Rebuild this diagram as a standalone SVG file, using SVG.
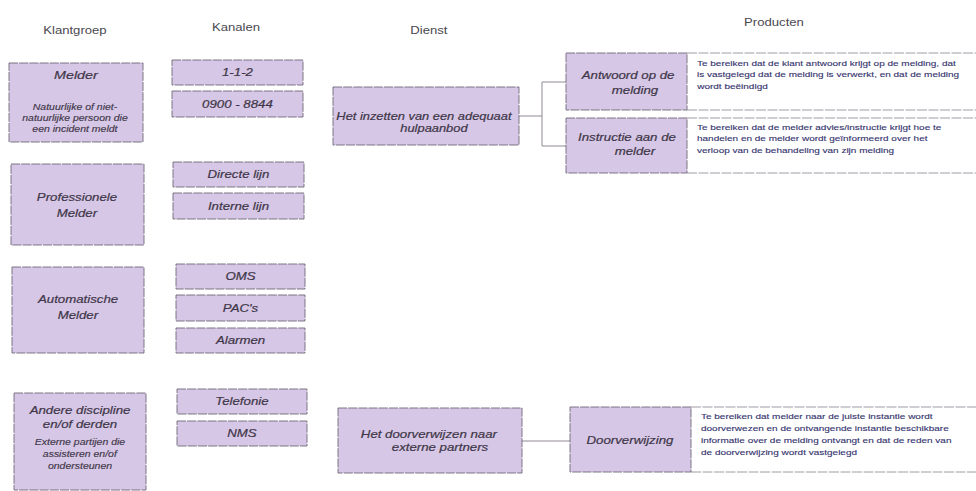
<svg xmlns="http://www.w3.org/2000/svg" width="976" height="491" viewBox="0 0 976 491">
  <style>
    text { font-family: "Liberation Sans", Arial, sans-serif; transform-box: fill-box; transform-origin: center; transform: scaleX(1.25); }
    .hdr { font-size: 10.5px; fill: #4a474f; text-anchor: middle; }
    .lbl { font-size: 10.6px; font-style: italic; fill: #3f3749; stroke: #3f3749; stroke-width: 0.2; text-anchor: middle; }
    .sub { font-size: 8.4px; font-style: italic; fill: #3f3749; stroke: #3f3749; stroke-width: 0.15; text-anchor: middle; }
    .desc { font-size: 8px; fill: #34336e; stroke: #34336e; stroke-width: 0.12; transform-origin: left center; }
    .box { fill: #d7c7e6; stroke: #6f6878; stroke-width: 0.9; stroke-dasharray: 9 1.2; }
    .txtbox { fill: #ffffff; }
    .rule { stroke: #a09ca6; stroke-width: 1; stroke-dasharray: 10 1.5; }
    .conn { fill: none; stroke: #8f8894; stroke-width: 1; }
  </style>

  <!-- column headings -->
  <g id="headings">
    <text class="hdr" x="75" y="34">Klantgroep</text>
    <text class="hdr" x="236" y="31">Kanalen</text>
    <text class="hdr" x="429" y="34">Dienst</text>
    <text class="hdr" x="774" y="26">Producten</text>
  </g>

  <!-- connectors -->
  <g id="connectors">
    <path class="conn" d="M519,116 H542 M566,82 H542 V146 H566"/>
    <path class="conn" d="M522,441 H570"/>
  </g>

  <!-- customer groups -->
  <g id="kg-melder">
    <rect class="box" x="9" y="63" width="134" height="79"/>
    <text class="lbl" x="76" y="79" style="font-size:11.5px">Melder</text>
    <text class="sub" x="75" y="110">Natuurlijke of niet-</text>
    <text class="sub" x="75" y="121">natuurlijke persoon die</text>
    <text class="sub" x="75" y="132">een incident meldt</text>
  </g>
  <g id="kg-professioneel">
    <rect class="box" x="11" y="164" width="133" height="81"/>
    <text class="lbl" x="77" y="201">Professionele</text>
    <text class="lbl" x="77" y="217">Melder</text>
  </g>
  <g id="kg-automatisch">
    <rect class="box" x="12" y="267" width="132" height="86"/>
    <text class="lbl" x="78" y="303">Automatische</text>
    <text class="lbl" x="78" y="319">Melder</text>
  </g>
  <g id="kg-andere">
    <rect class="box" x="14" y="393" width="132" height="97"/>
    <text class="lbl" x="80" y="414">Andere discipline</text>
    <text class="lbl" x="80" y="428">en/of derden</text>
    <text class="sub" x="80" y="445">Externe partijen die</text>
    <text class="sub" x="80" y="457">assisteren en/of</text>
    <text class="sub" x="80" y="469">ondersteunen</text>
  </g>

  <!-- channels -->
  <g id="ch-112">
    <rect class="box" x="172" y="60" width="131" height="25"/>
    <text class="lbl" x="237.5" y="76.5">1-1-2</text>
  </g>
  <g id="ch-0900">
    <rect class="box" x="172" y="91" width="131" height="26"/>
    <text class="lbl" x="237.5" y="108">0900 - 8844</text>
  </g>
  <g id="ch-directe-lijn">
    <rect class="box" x="173" y="162" width="131" height="25"/>
    <text class="lbl" x="238.5" y="178.5">Directe lijn</text>
  </g>
  <g id="ch-interne-lijn">
    <rect class="box" x="173" y="193" width="131" height="26"/>
    <text class="lbl" x="238.5" y="210">Interne lijn</text>
  </g>
  <g id="ch-oms">
    <rect class="box" x="176" y="264" width="129" height="25"/>
    <text class="lbl" x="240.5" y="280.5">OMS</text>
  </g>
  <g id="ch-pacs">
    <rect class="box" x="176" y="295" width="129" height="26"/>
    <text class="lbl" x="240.5" y="312">PAC's</text>
  </g>
  <g id="ch-alarmen">
    <rect class="box" x="176" y="328" width="129" height="25"/>
    <text class="lbl" x="240.5" y="344.5">Alarmen</text>
  </g>
  <g id="ch-telefonie">
    <rect class="box" x="177" y="389" width="130" height="25"/>
    <text class="lbl" x="242" y="405.5">Telefonie</text>
  </g>
  <g id="ch-nms">
    <rect class="box" x="177" y="421" width="130" height="25"/>
    <text class="lbl" x="242" y="437.5">NMS</text>
  </g>

  <!-- services -->
  <g id="dienst-hulpaanbod">
    <rect class="box" x="333" y="87" width="186" height="58"/>
    <text class="lbl" x="424" y="120" style="font-size:10.3px">Het inzetten van een adequaat</text>
    <text class="lbl" x="434" y="132" style="font-size:10.3px">hulpaanbod</text>
  </g>
  <g id="dienst-doorverwijzen">
    <rect class="box" x="338" y="408" width="184" height="65"/>
    <text class="lbl" x="429" y="438">Het doorverwijzen naar</text>
    <text class="lbl" x="440" y="451">externe partners</text>
  </g>

  <!-- products -->
  <g id="product-antwoord">
    <rect class="txtbox" x="687" y="53" width="289" height="57"/>
    <line class="rule" x1="687" y1="53" x2="976" y2="53"/>
    <line class="rule" x1="687" y1="110" x2="976" y2="110"/>
    <rect class="box" x="566" y="53" width="121" height="57"/>
    <text class="lbl" x="628" y="79">Antwoord op de</text>
    <text class="lbl" x="635" y="94">melding</text>
    <text class="desc" x="697" y="66">Te bereiken dat de klant antwoord krijgt op de melding, dat</text>
    <text class="desc" x="697" y="77.5">is vastgelegd dat de melding is verwerkt, en dat de melding</text>
    <text class="desc" x="697" y="89">wordt beëindigd</text>
  </g>
  <g id="product-instructie">
    <rect class="txtbox" x="687" y="118" width="289" height="55"/>
    <line class="rule" x1="687" y1="118" x2="976" y2="118"/>
    <line class="rule" x1="687" y1="173" x2="976" y2="173"/>
    <rect class="box" x="566" y="118" width="121" height="55"/>
    <text class="lbl" x="627" y="141">Instructie aan de</text>
    <text class="lbl" x="635" y="155">melder</text>
    <text class="desc" x="697" y="130">Te bereiken dat de melder advies/instructie krijgt hoe te</text>
    <text class="desc" x="697" y="141.5">handelen en de melder wordt geïnformeerd over het</text>
    <text class="desc" x="697" y="153">verloop van de behandeling van zijn melding</text>
  </g>
  <g id="product-doorverwijzing">
    <rect class="txtbox" x="691" y="407" width="285" height="65"/>
    <line class="rule" x1="691" y1="407" x2="976" y2="407"/>
    <line class="rule" x1="691" y1="472" x2="976" y2="472"/>
    <rect class="box" x="570" y="407" width="121" height="65"/>
    <text class="lbl" x="630" y="444">Doorverwijzing</text>
    <text class="desc" x="701" y="419">Te bereiken dat melder naar de juiste instantie wordt</text>
    <text class="desc" x="701" y="431">doorverwezen en de ontvangende instantie beschikbare</text>
    <text class="desc" x="701" y="443">informatie over de melding ontvangt en dat de reden van</text>
    <text class="desc" x="701" y="455">de doorverwijzing wordt vastgelegd</text>
  </g>
</svg>
